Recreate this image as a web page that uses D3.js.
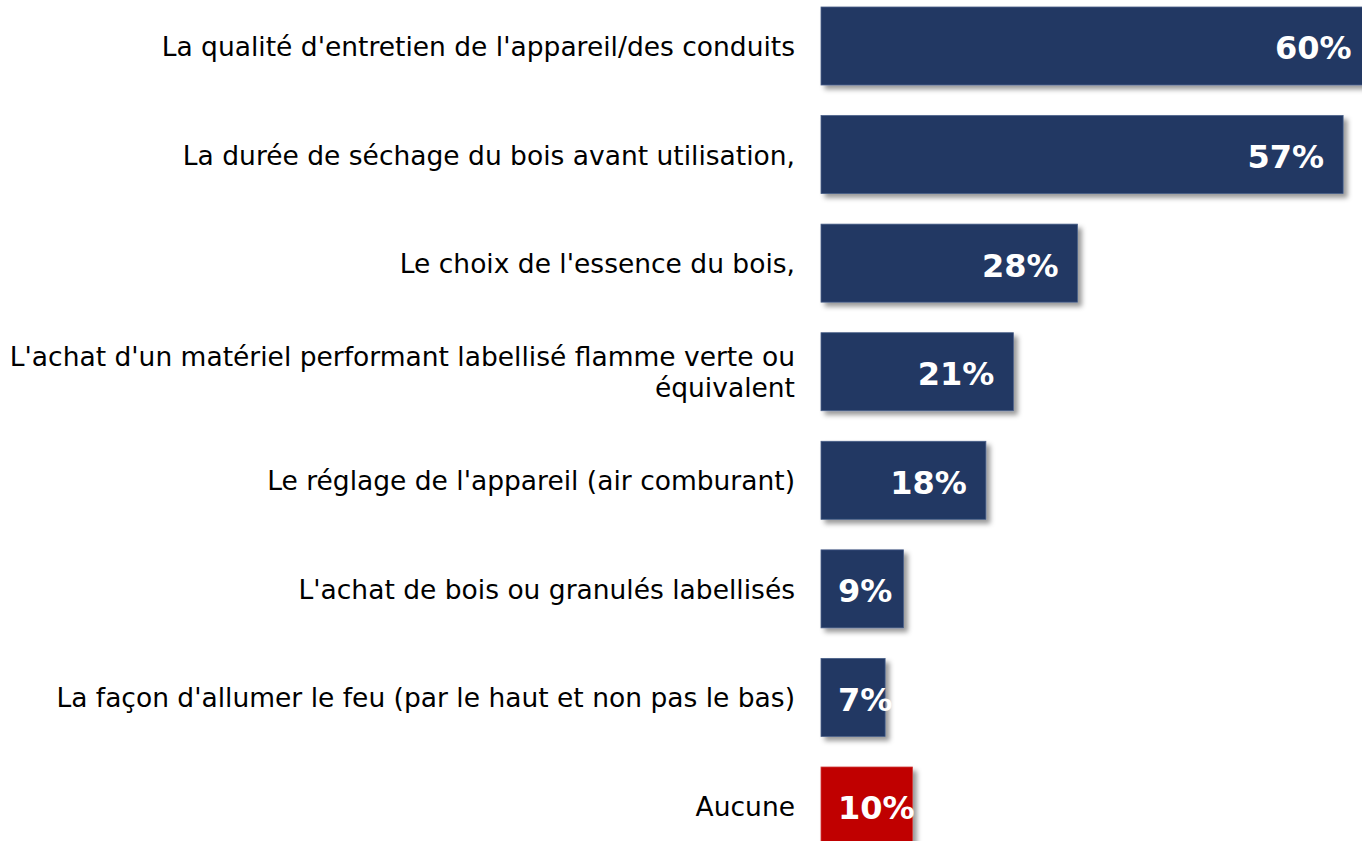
<!DOCTYPE html>
<html><head><meta charset="utf-8">
<script src="https://cdn.jsdelivr.net/npm/d3@7"></script>
<style>html,body{margin:0;padding:0;background:#fff;overflow:hidden}</style>
</head><body>
<svg id="chart" width="1362" height="841"></svg>
<script>
const categories = [
  ["La qualité d'entretien de l'appareil/des conduits"],
  ["La durée de séchage du bois avant utilisation,"],
  ["Le choix de l'essence du bois,"],
  ["L'achat d'un matériel performant labellisé flamme verte ou", "équivalent"],
  ["Le réglage de l'appareil (air comburant)"],
  ["L'achat de bois ou granulés labellisés"],
  ["La façon d'allumer le feu (par le haut et non pas le bas)"],
  ["Aucune"]
];
const values = [60, 57, 28, 21, 18, 9, 7, 10];
const highlight = [false, false, false, false, false, false, false, true];

const svg = d3.select("#chart");
const defs = svg.append("defs");
const f = defs.append("filter").attr("id","shadow").attr("x","-20%").attr("y","-20%").attr("width","150%").attr("height","150%");
f.append("feDropShadow").attr("dx",4).attr("dy",4).attr("stdDeviation",2.5).attr("flood-color","#000").attr("flood-opacity",0.4);

const idx = d3.range(values.length);
const y = d3.scaleBand().domain(idx).range([7, 845]).paddingInner(0.2816).paddingOuter(0);
const x = d3.scaleLinear().domain([0, 100]).range([821, 821 + 916]);

const g = svg.append("g");
g.selectAll("rect.bar").data(idx).join("rect")
  .attr("class","bar")
  .attr("x", x(0))
  .attr("y", i => y(i))
  .attr("width", i => x(values[i]) - x(0))
  .attr("height", y.bandwidth())
  .attr("fill", i => highlight[i] ? "#C00000" : "#203864")
  .attr("stroke", i => highlight[i] ? "#d04040" : "#4a5f88")
  .attr("stroke-width", 0.8)
  .attr("filter","url(#shadow)");

const font = "DejaVu Sans, Verdana, sans-serif";
const lab = g.selectAll("text.cat").data(idx).join("text")
  .attr("class","cat")
  .attr("text-anchor","end")
  .attr("font-family", font)
  .attr("font-size", 26.5)
  .attr("fill","#000");
lab.each(function(i){
  const lines = categories[i];
  const cy = y(i) + y.bandwidth()/2;
  const lh = 31;
  const t = d3.select(this);
  lines.forEach((s, k) => {
    t.append("tspan").attr("x", 795)
      .attr("y", cy + (k - (lines.length-1)/2)*lh)
      .attr("dy","0.38em")
      .text(s);
  });
});

g.selectAll("text.val").data(idx).join("text")
  .attr("class","val")
  .attr("font-family", font)
  .attr("font-weight","bold")
  .attr("font-size", 32)
  .attr("fill","#fff")
  .attr("text-anchor","end")
  .attr("y", i => y(i) + y.bandwidth()/2)
  .attr("dy","0.42em")
  .text(i => values[i] + "%")
  .attr("x", function(i){
    const w = this.getComputedTextLength();
    return Math.max(x(values[i]) - 19, x(0) + 17 + w);
  });
</script>
</body></html>
